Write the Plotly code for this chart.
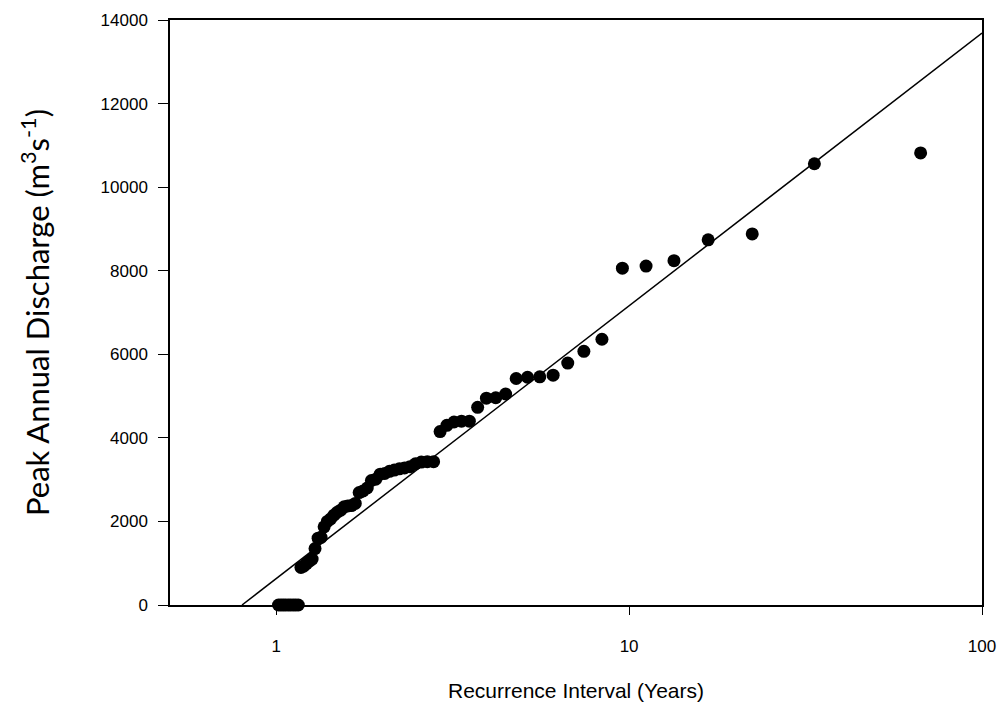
import plotly.graph_objects as go
import numpy as np

# Recurrence interval (years) for each ranked annual peak
recurrence_years = [67.0, 33.5, 22.33, 16.75, 13.4, 11.17, 9.571, 8.375, 7.444, 6.7,
                    6.091, 5.583, 5.154, 4.786, 4.467, 4.188, 3.941, 3.722, 3.526, 3.35,
                    3.19, 3.045, 2.913, 2.792, 2.68, 2.577, 2.481, 2.393, 2.31, 2.233,
                    2.161, 2.094, 2.03, 1.971, 1.914, 1.861, 1.811, 1.763, 1.718, 1.675,
                    1.634, 1.595, 1.558, 1.523, 1.489, 1.457, 1.426, 1.396, 1.367, 1.34,
                    1.314, 1.288, 1.264, 1.241, 1.218, 1.196, 1.175,
                    1.155, 1.135, 1.117, 1.098, 1.081, 1.063, 1.047, 1.031, 1.015]

# Peak annual discharge (m3/s)
peak_discharge = [10820, 10560, 8880, 8740, 8240, 8110, 8060, 6360, 6070, 5790,
                  5500, 5460, 5450, 5420, 5050, 4960, 4950, 4730, 4400, 4400,
                  4380, 4300, 4150, 3430, 3430, 3420, 3380, 3310, 3280, 3260,
                  3230, 3200, 3150, 3130, 3010, 2980, 2800, 2730, 2690, 2430,
                  2380, 2370, 2350, 2270, 2220, 2150, 2060, 2000, 1870, 1620,
                  1600, 1350, 1100, 1050, 990, 930, 900,
                  0, 0, 0, 0, 0, 0, 0, 0, 0]

# Log-linear fit: Q = fit_intercept + fit_slope * log10(T)
fit_intercept = 633
fit_slope = 6528
fit_x_range = [0.8, 100]

x_tick_vals = [1, 10, 100]
x_tick_text = ["1", "10", "100"]
y_tick_vals = [0, 2000, 4000, 6000, 8000, 10000, 12000, 14000]
y_tick_text = ["0", "2000", "4000", "6000", "8000", "10000", "12000", "14000"]

fit_x = np.array(fit_x_range, dtype=float)
fit_y = fit_intercept + fit_slope * np.log10(fit_x)

fig = go.Figure()
fig.add_trace(go.Scatter(x=fit_x, y=fit_y, mode="lines",
                         line=dict(color="black", width=1.5),
                         showlegend=False, hoverinfo="skip"))
fig.add_trace(go.Scatter(x=recurrence_years, y=peak_discharge, mode="markers",
                         marker=dict(color="black", size=13, line=dict(width=0)),
                         cliponaxis=False, showlegend=False))

axis_font = dict(family="Liberation Sans, Arial, sans-serif", size=17, color="black")

fig.update_layout(
    width=1005, height=704,
    margin=dict(l=162, r=31, t=12, b=107),
    paper_bgcolor="white", plot_bgcolor="white",
    xaxis=dict(type="log", range=[np.log10(0.5), 2], automargin=False,
               tickvals=x_tick_vals, ticktext=x_tick_text,
               ticks="outside", ticklen=8, tickwidth=1, tickcolor="black",
               ticklabelstandoff=17,
               showline=True, linecolor="black", linewidth=1.5, mirror=True,
               showgrid=False, zeroline=False, tickfont=axis_font,
               title=dict(text="Recurrence Interval (Years)",
                          font=dict(family="Liberation Sans, Arial, sans-serif", size=21, color="black"),
                          standoff=28)),
    yaxis=dict(range=[0, 14000], tickvals=y_tick_vals, ticktext=y_tick_text,
               automargin=False,
               ticks="outside", ticklen=10, tickwidth=1, tickcolor="black",
               ticklabelstandoff=7,
               showline=True, linecolor="black", linewidth=1.5, mirror=True,
               showgrid=False, zeroline=False, tickfont=axis_font,
               title=dict(text="Peak Annual Discharge (m<sup>3</sup>s<sup>-1</sup>)",
                          font=dict(family="Lato, Carlito, sans-serif", size=31, color="black"),
                          standoff=42)),
)

fig.write_html("out.html")
